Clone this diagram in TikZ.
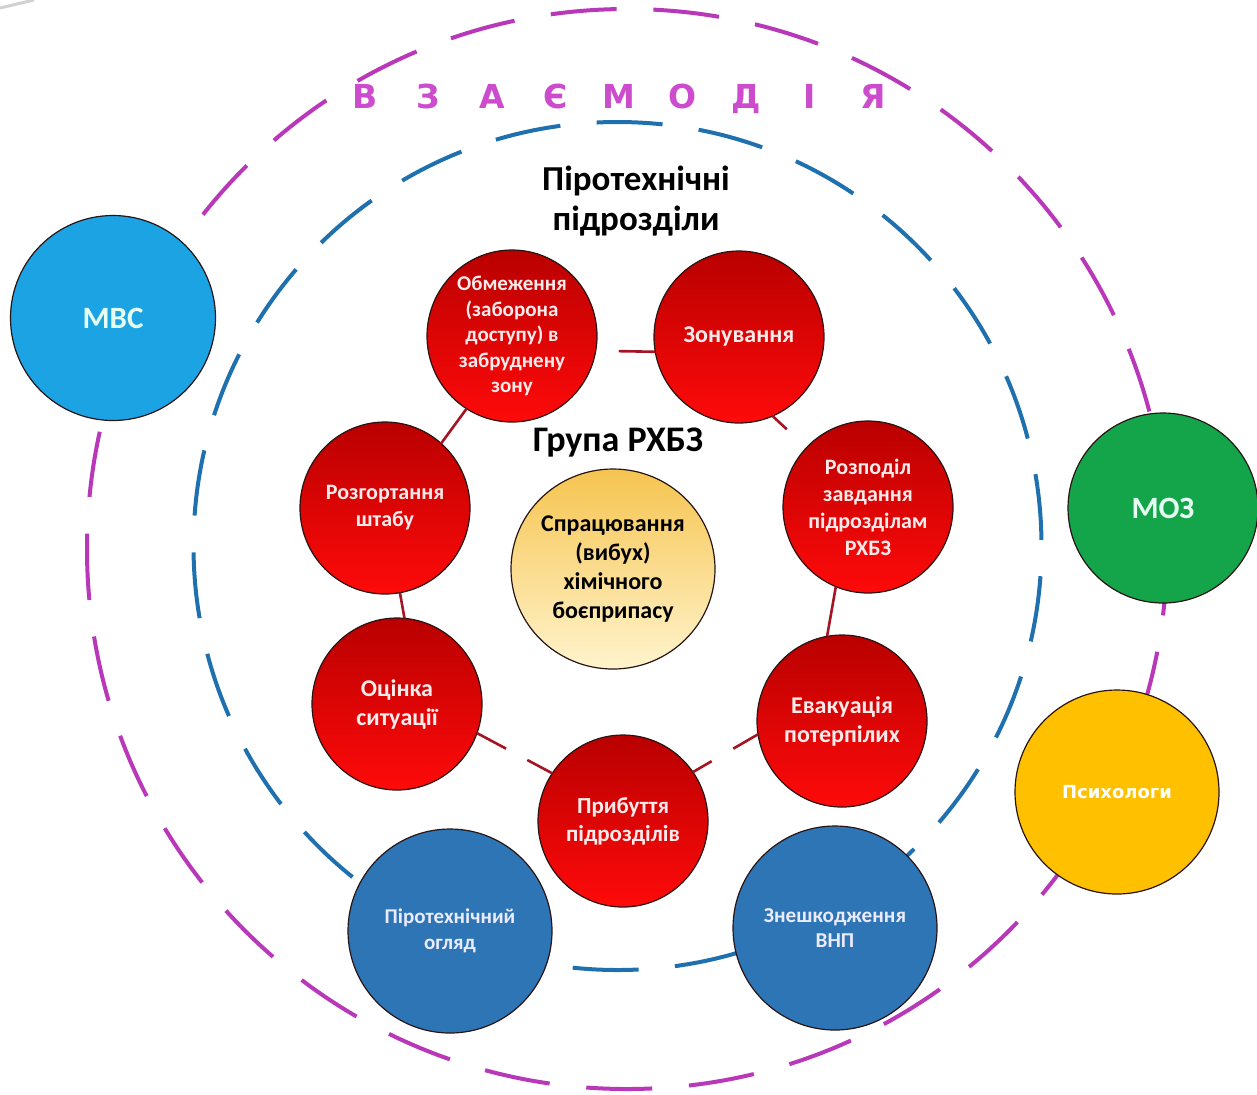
\documentclass[tikz,border=0pt]{standalone}
\usepackage{fontspec}
\setmainfont{Carlito}
\newfontfamily\titlefont{DejaVu Sans}
\newfontfamily\psyfont{DejaVu Sans}
\usetikzlibrary{shapes.geometric}
\definecolor{magline}{RGB}{185,55,185}
\definecolor{magtext}{RGB}{205,75,205}
\definecolor{blueline}{RGB}{30,112,175}
\definecolor{redtop}{RGB}{185,0,0}
\definecolor{redbot}{RGB}{255,10,10}
\definecolor{redline}{RGB}{165,20,35}
\definecolor{yeltop}{RGB}{246,196,80}
\definecolor{yelbot}{RGB}{255,244,205}
\definecolor{mvsfill}{RGB}{28,163,228}
\definecolor{mozfill}{RGB}{20,165,75}
\definecolor{psyfill}{RGB}{255,192,0}
\definecolor{bluefill}{RGB}{46,117,182}
\definecolor{edgecol}{RGB}{40,20,20}
\definecolor{mint}{RGB}{228,255,242}
\definecolor{pinkw}{RGB}{255,235,235}
\definecolor{lavw}{RGB}{235,235,255}
\begin{document}
\begin{tikzpicture}[x=0.5pt,y=-0.5pt,
  magring/.style={draw=magline, line width=2pt, dash pattern=on 33pt off 18.41pt, dash phase=7.5pt},
  bluering/.style={draw=blueline, line width=2pt, dash pattern=on 33pt off 18.23pt, dash phase=48pt},
  bubble/.style={ellipse, draw=edgecol, line width=0.6pt, inner sep=0pt, outer sep=0pt},
  redc/.style={bubble, top color=redtop, bottom color=redbot, minimum width=85pt, minimum height=86pt},
  bluec/.style={bubble, fill=bluefill, minimum width=102pt, minimum height=102pt},
  rlab/.style={text=pinkw, align=center},
  blab/.style={text=lavw, align=center},
  redconn/.style={draw=redline, line width=1.3pt},
  heading/.style={text=black, align=center}
]
\useasboundingbox (0,0) rectangle (1257,1094);
\draw[gray!35, line width=1.5pt] (0,8) -- (34,0);
% rings
\draw[magring] (627,549) ++(180:540) arc[start angle=180, end angle=-180, radius=540];
\draw[bluering] (617.5,546) ++(180:424) arc[start angle=180, end angle=-180, radius=424];

% outer partners
\node[bubble, fill=mvsfill, minimum width=102.5pt, minimum height=102.5pt,
  label={[text=mint, font=\bfseries\fontsize{15.5}{18}\selectfont]center:{МВС}}] (mvs) at (113,318) {};
\node[bubble, fill=mozfill, minimum width=95pt, minimum height=95pt,
  label={[text=mint, font=\bfseries\fontsize{15.5}{18}\selectfont]center:{МОЗ}}] (moz) at (1163,508) {};
\node[bubble, fill=psyfill, minimum width=102pt, minimum height=102pt,
  label={[text=white, font=\psyfont\bfseries\fontsize{9}{11}\selectfont]center:{Психологи}}] (psy) at (1117,792) {};

% pyrotechnic units
\node[bluec, label={[blab, font=\bfseries\fontsize{10.5}{13}\selectfont]center:{Піротехнічний\\огляд}}] (ogl) at (450,931) {};
\node[bluec, label={[blab, font=\bfseries\fontsize{10.6}{12.5}\selectfont]center:{Знешкодження\\ВНП}}] (vnp) at (835,928) {};

% red cycle
\node[redc, label={[rlab, font=\bfseries\fontsize{10.5}{12.75}\selectfont]center:{Обмеження\\(заборона\\доступу) в\\забруднену\\зону}}] (obm) at (512,336) {};
\node[redc, label={[rlab, font=\bfseries\fontsize{12}{14}\selectfont]center:{Зонування}}] (zon) at (739,337) {};
\node[redc, label={[rlab, font=\bfseries\fontsize{11}{13.5}\selectfont]center:{Розподіл\\завдання\\підрозділам\\РХБЗ}}] (rozp) at (868,507) {};
\node[redc, label={[rlab, font=\bfseries\fontsize{12}{14.5}\selectfont]center:{Евакуація\\потерпілих}}] (evak) at (842,721) {};
\node[redc, label={[rlab, font=\bfseries\fontsize{11.5}{14}\selectfont]center:{Прибуття\\підрозділів}}] (prib) at (623,821) {};
\node[redc, label={[rlab, font=\bfseries\fontsize{12}{14.5}\selectfont]center:{Оцінка\\ситуації}}] (ocin) at (397,704) {};
\node[redc, label={[rlab, font=\bfseries\fontsize{11}{13.5}\selectfont]center:{Розгортання\\штабу}}] (rozg) at (385,508) {};

% center event
\node[bubble, top color=yeltop, bottom color=yelbot, minimum width=102pt, minimum height=100pt,
  label={[text=black, align=center, font=\bfseries\fontsize{12}{14.5}\selectfont]center:{Спрацювання\\(вибух)\\хімічного\\боєприпасу}}] (evt) at (613,569) {};

% red connectors
\draw[redconn, shorten <=11.5pt] (obm.-10) -- (zon.190);
\draw[redconn, shorten >=13.5pt] (zon.-67) -- (rozp.136);
\draw[redconn] (rozp.-112) -- (evak.100);
\draw[redconn, dash pattern=on 14.3pt off 12.5pt on 12pt off 60pt] (evak.189) -- (prib.35);
\draw[redconn, dash pattern=on 16.5pt off 12pt on 16pt off 60pt] (ocin.-20) -- (prib.146);
\draw[redconn] (rozg.-80) -- (ocin.85);
\draw[redconn] (obm.238) -- (rozg.49);

% headings
\node[text=magtext, font=\titlefont\bfseries\fontsize{16.5}{20}\selectfont] (title) at (619,99)
  {\makebox[31.75pt]{В}\makebox[31.75pt]{З}\makebox[31.75pt]{А}\makebox[31.75pt]{Є}\makebox[31.75pt]{М}\makebox[31.75pt]{О}\makebox[31.75pt]{Д}\makebox[31.75pt]{І}\makebox[31.75pt]{Я}};
\node[heading, font=\bfseries\fontsize{17.5}{20}\selectfont] (pyro) at (636,201) {Піротехнічні\\підрозділи};
\node[heading, font=\bfseries\fontsize{18}{20}\selectfont] (rhbz) at (618,443) {Група РХБЗ};
\end{tikzpicture}
\end{document}
